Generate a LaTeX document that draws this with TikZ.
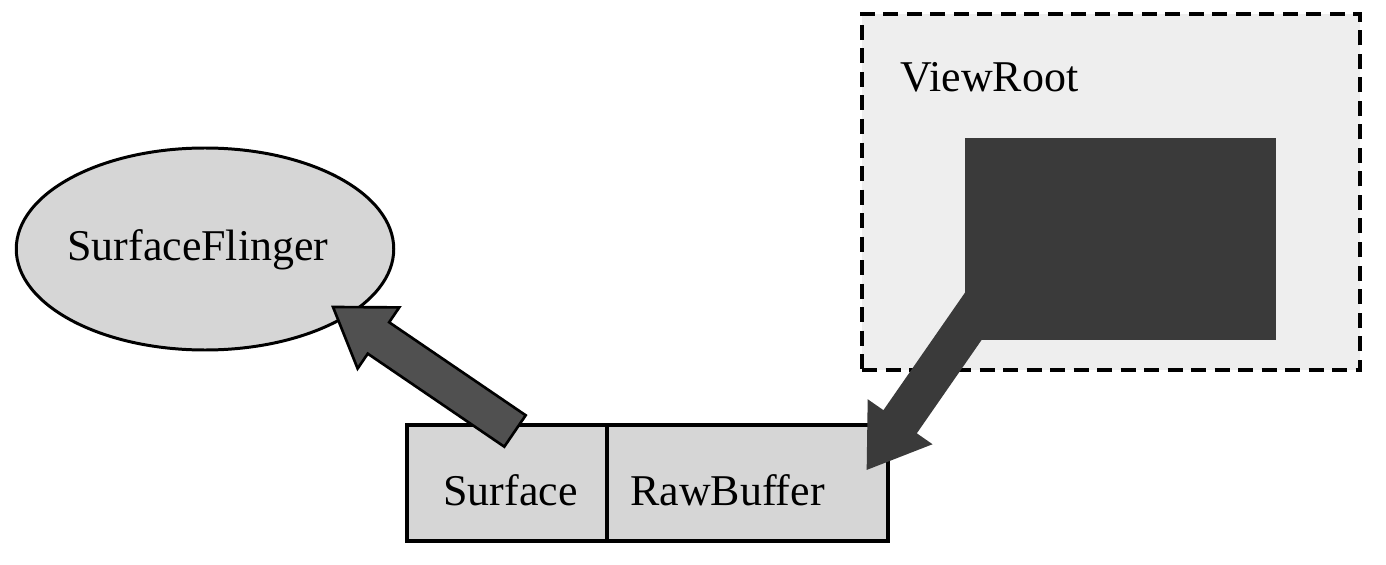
\documentclass[tikz,border=0pt]{standalone}
\usepackage{fontspec}
\setmainfont{Liberation Serif}
\usetikzlibrary{shapes,calc}

\definecolor{lightgray}{RGB}{214,214,214}
\definecolor{palegray}{RGB}{238,238,238}
\definecolor{darkgray}{RGB}{58,58,58}
\definecolor{arrowgray}{RGB}{80,80,80}

\tikzset{
  lbl/.style={font=\fontsize{25}{30}\selectfont, inner sep=0pt, anchor=base west},
  buf/.style={draw, line width=2pt, fill=lightgray, minimum height=2.32cm, inner sep=0pt, outer sep=0pt},
}

% fat block arrow: tail, tip, fill, outline
\newcommand{\fatarrow}[4]{%
  \coordinate (neck) at ($(#2)!1.1cm!(#1)$);
  \filldraw[fill=#3, draw=#4, line width=1.5pt, line join=miter]
    ($(#1)!0.38cm!90:(#2)$) -- ($(neck)!0.38cm!90:(#2)$) -- ($(neck)!0.74cm!90:(#2)$)
    -- (#2) -- ($(neck)!0.74cm!-90:(#2)$) -- ($(neck)!0.38cm!-90:(#2)$)
    -- ($(#1)!0.38cm!-90:(#2)$) -- cycle;
}

\begin{document}
\begin{tikzpicture}
\useasboundingbox (0,0) rectangle (27.72,11.28);
\path (4.10,6.30) node(sf)[draw,shape=ellipse,line width=1.7pt,fill=lightgray,
  minimum width=7.55cm,minimum height=4.04cm,inner sep=0pt] {};
\path (1.34,6.08) node(sflbl)[lbl] {SurfaceFlinger};
\path (10.14,1.62) node(surf)[buf,minimum width=4cm] {};
\path (14.95,1.62) node(raw)[buf,minimum width=5.62cm] {};
\path (8.86,1.18) node(surflbl)[lbl] {Surface};
\path (12.6,1.18) node(rawlbl)[lbl] {RawBuffer};
\path (22.22,7.44) node(vr)[draw,dash pattern=on 0.3cm off 0.17cm,line width=2pt,
  fill=palegray,minimum width=9.96cm,minimum height=7.12cm] {};
\path (18.0,9.44) node(vrlbl)[lbl] {ViewRoot};
\coordinate (tail2) at (19.90,5.58);
\coordinate (tip2) at ($(raw.north east)+(-0.40,-0.86)$);
\fatarrow{tail2}{tip2}{darkgray}{darkgray}
\path (22.41,6.50) node(view)[fill=darkgray,minimum width=6.22cm,minimum height=4.04cm] {};
\coordinate (tail1) at ($(surf.north east)+(-1.84,-0.12)$);
\coordinate (tip1) at (6.66,5.14);
\fatarrow{tail1}{tip1}{arrowgray}{black}
\end{tikzpicture}
\end{document}
